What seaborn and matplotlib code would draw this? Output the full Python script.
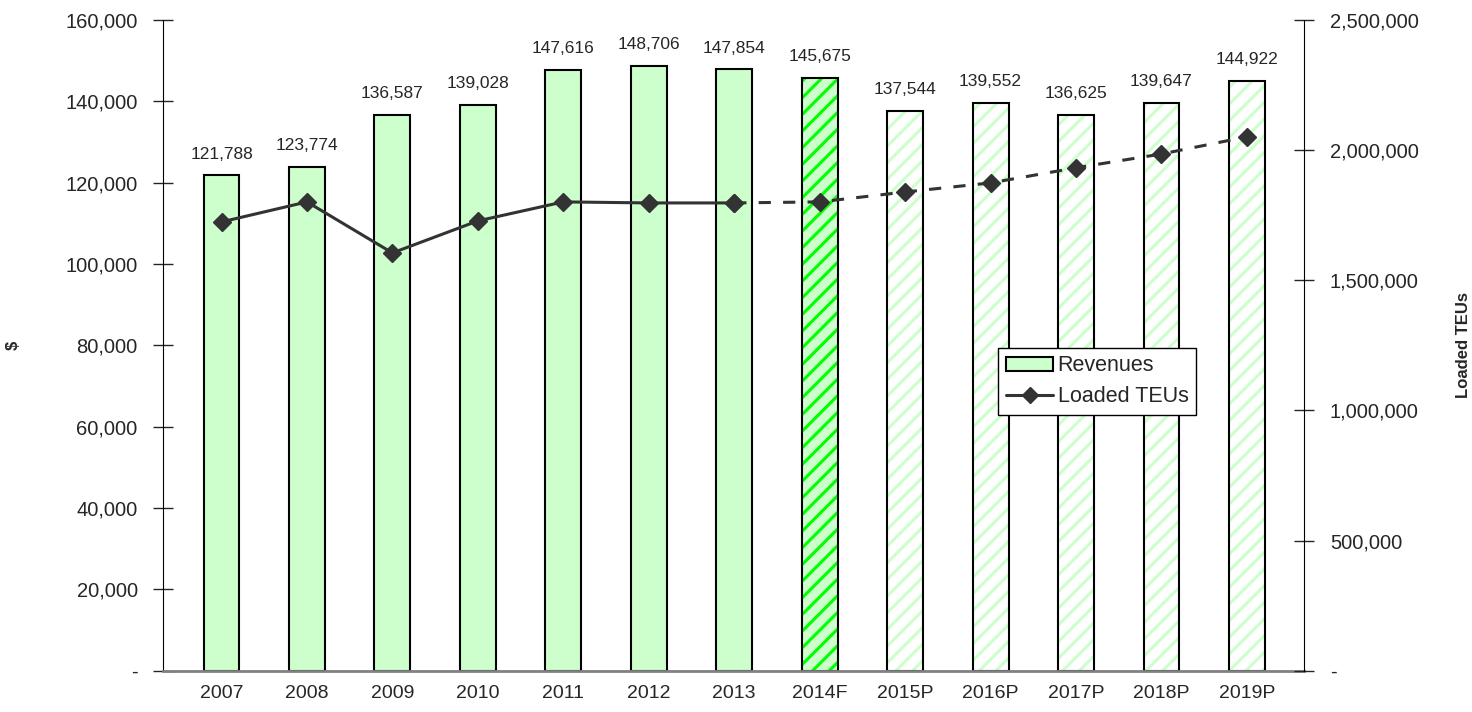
import matplotlib
matplotlib.use("Agg")
import matplotlib.pyplot as plt
import matplotlib.ticker as mticker
from matplotlib.lines import Line2D
from matplotlib.patches import Patch
import seaborn as sns
import pandas as pd

years = ["2007", "2008", "2009", "2010", "2011", "2012", "2013",
         "2014F", "2015P", "2016P", "2017P", "2018P", "2019P"]
revenues = [121788, 123774, 136587, 139028, 147616, 148706, 147854,
            145675, 137544, 139552, 136625, 139647, 144922]
teus = [1724000, 1801000, 1605000, 1728000, 1801000, 1797000, 1797000,
        1801000, 1839000, 1874000, 1932000, 1985000, 2051000]
n_actual = 7  # 2007-2013 are actuals

df = pd.DataFrame({"year": years, "revenue": revenues, "teus": teus})

sns.set_style("white")
plt.rcParams["font.family"] = ["Liberation Sans", "DejaVu Sans"]
plt.rcParams["hatch.linewidth"] = 2.2

fig = plt.figure(figsize=(14.72, 7.12), dpi=100)
ax = fig.add_axes([0.111, 0.058, 0.775, 0.914])

# fill layer (with hatch colours)
sns.barplot(data=df, x="year", y="revenue", ax=ax, width=0.42,
            color="#CCFFCC", linewidth=0, saturation=1)
for i, p in enumerate(ax.patches):
    if i < n_actual:
        p.set_facecolor("#CCFFCC")
        p.set_edgecolor("#CCFFCC")
    elif years[i].endswith("F"):
        p.set_facecolor("#CCFFCC")
        p.set_hatch("//")
        p.set_edgecolor("#00FF00")
    else:
        p.set_facecolor("white")
        p.set_hatch("//")
        p.set_edgecolor("#CCFFCC")
    p.set_linewidth(0)

# outline layer
sns.barplot(data=df, x="year", y="revenue", ax=ax, width=0.42,
            fill=False, edgecolor="black", linewidth=1.5, saturation=1)

for i, v in enumerate(revenues):
    ax.text(i, v + 3400, f"{v:,}", ha="center", va="bottom", fontsize=12.5)

ax.set_ylim(0, 160000)
ax.set_xlim(-0.68, len(years) - 0.33)
ax.yaxis.set_major_locator(mticker.MultipleLocator(20000))
ax.yaxis.set_major_formatter(mticker.FuncFormatter(
    lambda v, p: "-" if v == 0 else f"{v:,.0f}"))
ax.set_xlabel("")
ax.set_ylabel("$", fontsize=12, fontweight="bold")
ax.yaxis.set_label_coords(-0.125, 0.5)
ax.tick_params(axis="y", direction="inout", length=15, width=1,
               labelsize=14.5, pad=11, left=True)
ax.tick_params(axis="x", length=0, labelsize=14, pad=10)
for s in ["top", "right"]:
    ax.spines[s].set_visible(False)
ax.spines["left"].set_color("black")
ax.spines["bottom"].set_color("#808080")
ax.spines["bottom"].set_linewidth(2)

# TEUs on the secondary axis: solid for actuals, dashed for forecast
ax2 = ax.twinx()
x = list(range(len(years)))
ax2.plot(x[:n_actual], teus[:n_actual], color="#333333", lw=2.2,
         marker="D", markersize=9, zorder=5)
ax2.plot(x[n_actual - 1:], teus[n_actual - 1:], color="#333333", lw=2.2,
         ls=(0, (4, 4)), marker="D", markersize=9, zorder=5)
ax2.set_ylim(0, 2500000)
ax2.yaxis.set_major_locator(mticker.MultipleLocator(500000))
ax2.yaxis.set_major_formatter(mticker.FuncFormatter(
    lambda v, p: "-" if v == 0 else f"{v:,.0f}"))
ax2.tick_params(axis="y", direction="inout", length=15, width=1,
                labelsize=14.5, pad=11, right=True)
ax2.set_ylabel("Loaded TEUs", fontsize=12, fontweight="bold")
ax2.yaxis.set_label_coords(1.133, 0.5)
for s in ["top", "left", "bottom"]:
    ax2.spines[s].set_visible(False)
ax2.spines["right"].set_color("black")

handles = [Patch(facecolor="#CCFFCC", edgecolor="black", linewidth=1.5),
           Line2D([0], [0], color="#333333", lw=2.2, marker="D", markersize=8)]
leg = ax2.legend(handles, ["Revenues", "Loaded TEUs"], loc="upper left",
                 bbox_to_anchor=(0.732, 0.496), borderaxespad=0,
                 fontsize=15.5, frameon=True,
                 fancybox=False, edgecolor="black", framealpha=1,
                 handlelength=2.2, handleheight=0.6, borderpad=0.35,
                 labelspacing=0.45, handletextpad=0.2)
leg.get_frame().set_linewidth(1)

fig.savefig("out.png", dpi=100)
